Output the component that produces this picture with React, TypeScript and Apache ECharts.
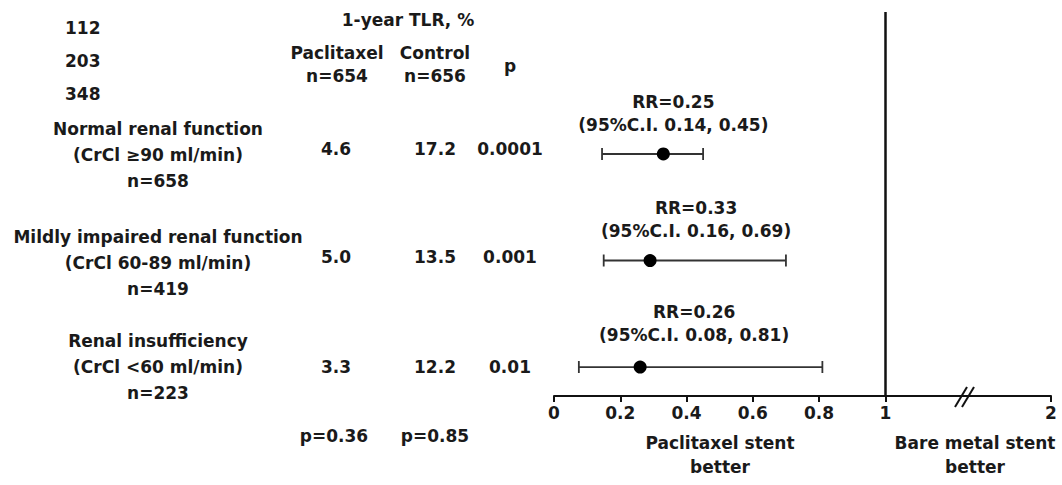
import React, { useEffect, useRef } from "react";
import * as echarts from "echarts";

// ---- data ----
const headerCounts = ["112", "203", "348"];
const subgroups = ["Normal renal function", "Mildly impaired renal function", "Renal insufficiency"];
const crclRanges = ["(CrCl \u226590 ml/min)", "(CrCl 60-89 ml/min)", "(CrCl <60 ml/min)"];
const subgroupN = ["n=658", "n=419", "n=223"];
const paclitaxelTLR = [4.6, 5.0, 3.3];
const controlTLR = [17.2, 13.5, 12.2];
const pValues = ["0.0001", "0.001", "0.01"];
const trendP = ["p=0.36", "p=0.85"];
const rrText = ["0.25", "0.33", "0.26"];
const ciTextLow = ["0.14", "0.16", "0.08"];
const ciTextHigh = ["0.45", "0.69", "0.81"];
// plotted marks as drawn in the picture
const rrPoint = [0.33, 0.29, 0.26];
const ciLow = [0.145, 0.15, 0.075];
const ciHigh = [0.45, 0.7, 0.81];
const tickValues = [0, 0.2, 0.4, 0.6, 0.8, 1, 1.5];
const tickLabels = ["0", "0.2", "0.4", "0.6", "0.8", "1", "2"];

// ---- style ----
const FONT = "DejaVu Sans";
const FS = 17;
const INK = "#1a1a1a";

const txt = (text: string, x: number, y: number, align = "center", lineHeight = 24) => ({
  type: "text",
  x,
  y,
  silent: true,
  style: {
    text,
    fill: INK,
    fontFamily: FONT,
    fontWeight: "bold",
    fontSize: FS,
    lineHeight,
    align,
    verticalAlign: "middle",
  },
});

export default function App() {
  const ref = useRef<HTMLDivElement>(null);
  useEffect(() => {
    if (!ref.current) return;
    const chart = echarts.init(ref.current, undefined, { renderer: "svg" });

    const rowLabelY = [155, 263, 367];
    const rowValueY = [149, 257, 367];
    const graphics: any[] = [];
    headerCounts.forEach((c, i) => graphics.push(txt(c, 65, 28 + i * 33, "left")));
    graphics.push(txt("1-year TLR, %", 408, 20));
    graphics.push(txt("Paclitaxel\nn=654", 337, 64, "center", 23));
    graphics.push(txt("Control\nn=656", 435, 64, "center", 23));
    graphics.push(txt("p", 510, 66));
    subgroups.forEach((s, i) => {
      graphics.push(txt(`${s}\n${crclRanges[i]}\n${subgroupN[i]}`, 158, rowLabelY[i], "center", 26));
      graphics.push(txt(paclitaxelTLR[i].toFixed(1), 336, rowValueY[i]));
      graphics.push(txt(controlTLR[i].toFixed(1), 435, rowValueY[i]));
      graphics.push(txt(pValues[i], 510, rowValueY[i]));
    });
    graphics.push(txt(trendP[0], 334, 436));
    graphics.push(txt(trendP[1], 435, 436));
    graphics.push(txt("Paclitaxel stent\nbetter", 720, 455, "center", 24));
    graphics.push(txt("Bare metal stent\nbetter", 975, 455, "center", 24));
    // axis break mark
    graphics.push({
      type: "line",
      silent: true,
      shape: { x1: 955, y1: 407, x2: 967, y2: 387 },
      style: { stroke: "#111", lineWidth: 2 },
    });
    graphics.push({
      type: "line",
      silent: true,
      shape: { x1: 962, y1: 407, x2: 974, y2: 387 },
      style: { stroke: "#111", lineWidth: 2 },
    });

    const labelOffsets = [
      [10, -40],
      [46, -41],
      [54, -44],
    ];

    chart.setOption({
      animation: false,
      backgroundColor: "#ffffff",
      grid: { left: 554, right: 11, top: 12, bottom: 89, containLabel: false },
      xAxis: {
        type: "value",
        min: 0,
        max: 1.5,
        axisLine: { show: true, onZero: false, lineStyle: { color: "#111", width: 2 } },
        axisTick: {
          show: true,
          customValues: tickValues,
          length: 6,
          lineStyle: { color: "#111", width: 2 },
        },
        axisLabel: {
          customValues: tickValues,
          formatter: (v: number) => {
            const idx = tickValues.findIndex((t) => Math.abs(t - v) < 1e-9);
            return idx >= 0 ? tickLabels[idx] : "";
          },
          fontFamily: FONT,
          fontWeight: "bold",
          fontSize: FS,
          color: INK,
          margin: 8,
        },
        splitLine: { show: false },
      },
      yAxis: {
        type: "value",
        inverse: true,
        min: -0.333,
        max: 3.272,
        show: false,
        splitLine: { show: false },
      },
      series: [
        {
          type: "custom",
          silent: true,
          data: ciLow.map((l, i) => [l, ciHigh[i], i + 1]),
          encode: { x: [0, 1], y: 2 },
          renderItem: (params: any, api: any) => {
            const lo = api.coord([api.value(0), api.value(2)]);
            const hi = api.coord([api.value(1), api.value(2)]);
            const y = lo[1];
            const st = { stroke: "#333", lineWidth: 1.8 };
            return {
              type: "group",
              children: [
                { type: "line", shape: { x1: lo[0], y1: y, x2: hi[0], y2: y }, style: st },
                { type: "line", shape: { x1: lo[0], y1: y - 6, x2: lo[0], y2: y + 6 }, style: st },
                { type: "line", shape: { x1: hi[0], y1: y - 6, x2: hi[0], y2: y + 6 }, style: st },
              ],
            };
          },
        },
        {
          type: "scatter",
          silent: true,
          symbol: "circle",
          symbolSize: 13,
          itemStyle: { color: "#000", opacity: 1 },
          data: rrPoint.map((v, i) => ({
            value: [v, i + 1],
            label: { offset: labelOffsets[i] },
          })),
          label: {
            show: true,
            position: "inside",
            formatter: (p: any) =>
              `RR=${rrText[p.dataIndex]}\n(95%C.I. ${ciTextLow[p.dataIndex]}, ${ciTextHigh[p.dataIndex]})`,
            fontFamily: FONT,
            fontWeight: "bold",
            fontSize: FS,
            lineHeight: 23,
            color: INK,
            opacity: 1,
            align: "center",
          },
          markLine: {
            silent: true,
            symbol: "none",
            label: { show: false },
            lineStyle: { color: "#111", width: 2.5, type: "solid", opacity: 1 },
            data: [{ xAxis: 1 }],
          },
        },
      ],
      graphic: graphics,
    });
    return () => chart.dispose();
  }, []);
  return (
    <div
      ref={ref}
      style={{ position: "fixed", left: 0, top: 0, width: 1062, height: 485, background: "#fff" }}
    />
  );
}
